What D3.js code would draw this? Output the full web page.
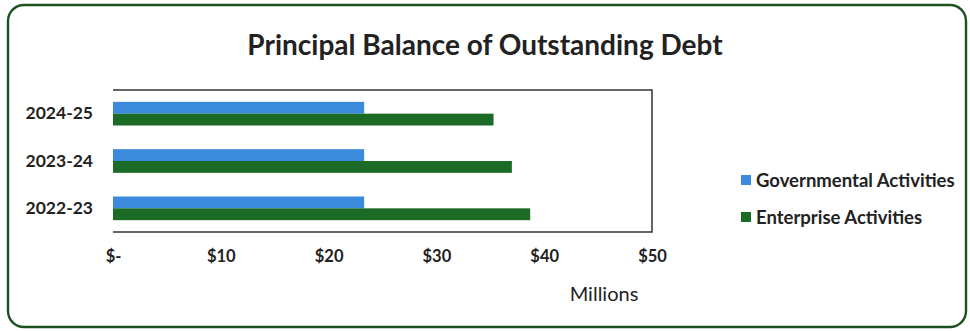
<!DOCTYPE html>
<html>
<head>
<meta charset="utf-8">
<script src="https://cdn.jsdelivr.net/npm/d3@7"></script>
<style>
  html, body { margin: 0; padding: 0; background: #fff; }
  svg { display: block; }
  text { font-family: Lato, "Open Sans", sans-serif; }
</style>
</head>
<body>
<svg id="chart" width="970" height="331"></svg>
<script>
// Fiscal years, top to bottom
const years = ["2024-25", "2023-24", "2022-23"];
// Series names
const seriesNames = ["Governmental Activities", "Enterprise Activities"];
// Principal balances, in millions of dollars
const governmental = [23.3, 23.3, 23.3];
const enterprise = [35.3, 37.0, 38.7];
// Axis ticks
const tickValues = [0, 10, 20, 30, 40, 50];
const tickLabels = ["$-", "$10", "$20", "$30", "$40", "$50"];
const seriesColors = ["#3b8ade", "#1b6a26"];

const svg = d3.select("#chart");

// Outer frame
svg.append("rect")
  .attr("x", 8).attr("y", 5)
  .attr("width", 958).attr("height", 322)
  .attr("rx", 16).attr("ry", 16)
  .attr("fill", "#fff")
  .attr("stroke", "#1d5220")
  .attr("stroke-width", 2.4);

// Title
svg.append("text")
  .attr("x", 485).attr("y", 55)
  .attr("text-anchor", "middle")
  .attr("font-size", 28)
  .attr("font-weight", 700)
  .attr("fill", "#222")
  .text("Principal Balance of Outstanding Debt");

const plot = { left: 113, right: 652, top: 90, bottom: 232 };

const x = d3.scaleLinear().domain([0, 50]).range([plot.left, plot.right]);
const y = d3.scaleBand().domain(years).range([plot.top, plot.bottom]).paddingInner(0.5).paddingOuter(0.25);
const ySub = d3.scaleBand().domain(seriesNames).range([0, y.bandwidth()]);

// Plot area border (top, right, bottom)
svg.append("path")
  .attr("d", `M${plot.left},${plot.top}H${plot.right}V${plot.bottom}H${plot.left}`)
  .attr("fill", "none")
  .attr("stroke", "#333")
  .attr("stroke-width", 1.5);

const rows = years.map((yr, i) => ({ year: yr, values: [governmental[i], enterprise[i]] }));

const g = svg.append("g");
rows.forEach(r => {
  r.values.forEach((v, j) => {
    g.append("rect")
      .attr("x", x(0))
      .attr("y", y(r.year) + ySub(seriesNames[j]))
      .attr("width", x(v) - x(0))
      .attr("height", ySub.bandwidth())
      .attr("fill", seriesColors[j]);
  });
});

// Category axis
const yAxis = svg.append("g")
  .attr("transform", `translate(${plot.left},0)`)
  .call(d3.axisLeft(y).tickSize(0).tickPadding(20));
yAxis.select(".domain").remove();
yAxis.selectAll("text")
  .attr("font-size", 17.5)
  .attr("font-weight", 700)
  .attr("fill", "#222")
  .style("font-family", "Lato, sans-serif");

// Value axis
const xAxis = svg.append("g")
  .attr("transform", `translate(0,${plot.bottom + 10})`)
  .call(d3.axisBottom(x).tickValues(tickValues).tickFormat((d, i) => tickLabels[i]).tickSize(0).tickPadding(8));
xAxis.select(".domain").remove();
xAxis.selectAll("text")
  .attr("font-size", 16.5)
  .attr("font-weight", 700)
  .attr("fill", "#222")
  .style("font-family", "Lato, sans-serif");

svg.append("text")
  .attr("x", 604).attr("y", 301)
  .attr("text-anchor", "middle")
  .attr("font-size", 20)
  .attr("fill", "#222")
  .text("Millions");

// Legend
const legend = svg.append("g");
seriesNames.forEach((name, j) => {
  const ly = 180 + j * 37;
  legend.append("rect")
    .attr("x", 741).attr("y", ly - 5)
    .attr("width", 10).attr("height", 10)
    .attr("fill", seriesColors[j]);
  legend.append("text")
    .attr("x", 756).attr("y", ly + 6.5)
    .attr("font-size", 18.5)
    .attr("font-weight", 700)
    .attr("fill", "#222")
    .text(name);
});
</script>
</body>
</html>
